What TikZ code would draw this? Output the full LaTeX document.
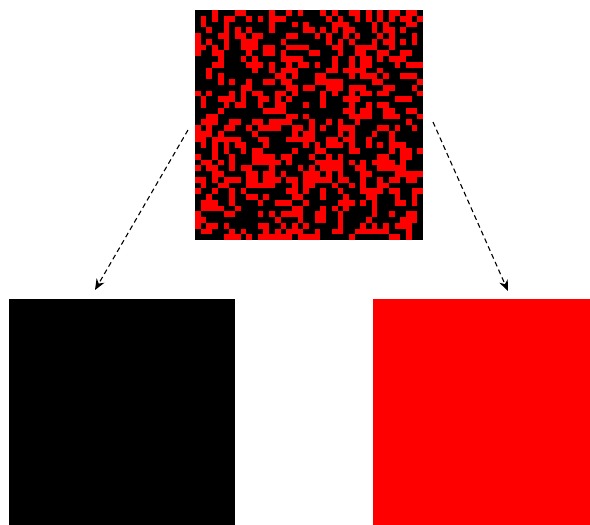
\documentclass[tikz,border=0pt]{standalone}
\usetikzlibrary{arrows.meta}
\definecolor{pixred}{RGB}{255,0,0}
\tikzset{
  conn/.style={line width=1.1pt, dash pattern=on 5pt off 3.5pt, -{Stealth[length=11pt,width=9pt]}},
  blk/.style={fill=black, draw=none},
  redsq/.style={fill=pixred, draw=none}
}
\begin{document}
\begin{tikzpicture}[x=1pt,y=-1pt]
\useasboundingbox (0,0) rectangle (590,525);
% top mixed square
\fill[black] (195,10) rectangle (423,240);
\pgfmathsetseed{4217}
\foreach \i in {0,...,39}{
  \foreach \j in {0,...,39}{
    \pgfmathsetmacro{\r}{rnd}
    \ifdim\r pt<0.42pt
      \fill[pixred] ({195+\i*5.7},{10+\j*5.75}) rectangle ({195+(\i+1)*5.7},{10+(\j+1)*5.75});
    \fi
  }
}
\node[inner sep=0pt, minimum width=228pt, minimum height=230pt] (mix) at (309,125) {};
\node[blk, inner sep=0pt, minimum width=226pt, minimum height=226pt] (black) at (122,412) {};
\node[redsq, inner sep=0pt, minimum width=217pt, minimum height=226pt] (red) at (481.5,412) {};
\coordinate (s1) at (188,130);
\coordinate (e1) at (95,290);
\coordinate (s2) at (433,122);
\coordinate (e2) at (508,291);
\draw[conn] (s1) -- (e1);
\draw[conn] (s2) -- (e2);
\end{tikzpicture}
\end{document}
